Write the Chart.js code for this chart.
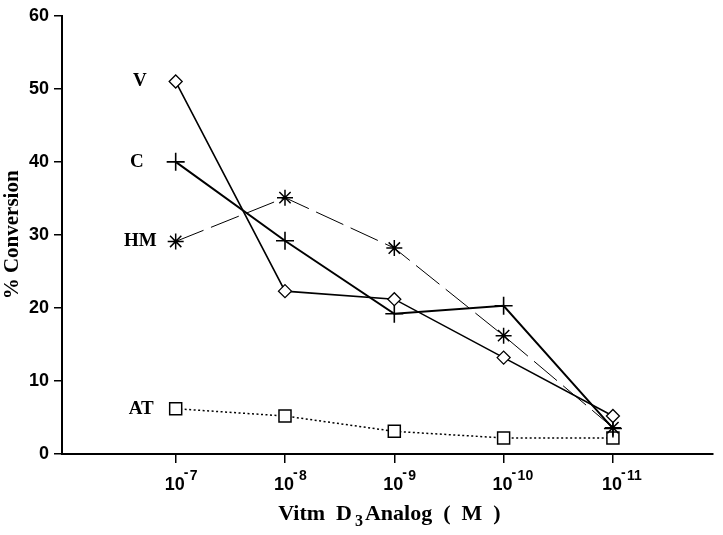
<!DOCTYPE html>
<html>
<head>
  <script src="https://cdn.jsdelivr.net/npm/chart.js@4.4.0/dist/chart.umd.min.js"></script>
  <style>
    body { margin: 0; background: #fff; }
    #wrap { width: 723px; height: 535px; position: relative; }
  </style>
</head>
<body>
  <div id="wrap"><canvas id="chart"></canvas></div>

  <script>
    // concentration exponents, 10^-7 ... 10^-11 M
    var exponents = ['-7', '-8', '-9', '-10', '-11'];
    var yTicks = [0, 10, 20, 30, 40, 50, 60];

    var seriesNames = ['V', 'C', 'HM', 'AT'];
    var vValues  = [51, 22.3, 21.2, 13.2, 5.2];
    var cValues  = [40, 29.2, 19.2, 20.3, 3.5];
    var hmValues = [29.1, 35.1, 28.2, 16.2, 3.6];
    var atValues = [6.2, 5.2, 3.1, 2.2, 2.2];

    function pts(vals) {
      return vals.map(function (v, i) { return { x: i, y: v }; });
    }

    var serif = "'Liberation Serif', 'DejaVu Serif', serif";
    var sans = "'Liberation Sans', Arial, sans-serif";

    // draws series names, x tick labels with superscripts and x title
    var textPlugin = {
      id: 'texts',
      afterDraw: function (chart) {
        var ctx = chart.ctx;
        var xs = chart.scales.x, ys = chart.scales.y;
        ctx.save();
        ctx.fillStyle = '#000';

        // series names next to the first point
        ctx.font = 'bold 19px ' + serif;
        ctx.textAlign = 'right';
        ctx.textBaseline = 'middle';
        chart.data.datasets.forEach(function (ds) {
          var p = ds.data[0];
          ctx.fillText(ds.label, xs.getPixelForValue(p.x) - ds.nameGap, ys.getPixelForValue(p.y));
        });

        // x tick labels 10^n
        exponents.forEach(function (e, i) {
          var px = xs.getPixelForValue(i);
          ctx.font = 'bold 18px ' + sans;
          ctx.textAlign = 'right';
          ctx.textBaseline = 'alphabetic';
          ctx.fillText('10', px + 9, ys.bottom + 36);
          ctx.font = 'bold 14px ' + sans;
          ctx.textAlign = 'left';
          ctx.fillText('-', px + 8, ys.bottom + 23);
          ctx.fillText(e.replace('-', ''), px + 14, ys.bottom + 26);
        });

        // x axis title with subscript
        var x0 = (xs.left + xs.right) / 2 - 109;
        var ty = ys.bottom + 66;
        ctx.textAlign = 'left';
        ctx.font = 'bold 22px ' + serif;
        var a = 'Vitm  D', b = 'Analog  (  M  )';
        var wa = ctx.measureText(a).width;
        ctx.fillText(a, x0, ty);
        ctx.font = 'bold 16px ' + serif;
        var w3 = ctx.measureText('3').width;
        ctx.fillText('3', x0 + wa + 3, ty + 6);
        ctx.font = 'bold 22px ' + serif;
        ctx.fillText(b, x0 + wa + w3 + 5, ty);
        ctx.restore();
      }
    };

    var ctx = document.getElementById('chart').getContext('2d');
    var chart = new Chart(ctx, {
      type: 'line',
      data: {
        datasets: [{
          label: seriesNames[0],
          data: pts(vValues),
          borderColor: '#000',
          borderWidth: 1.6,
          pointStyle: 'rectRot',
          pointRadius: 6.5,
          pointBorderWidth: 1.3,
          pointBackgroundColor: '#fff',
          pointBorderColor: '#000',
          nameGap: 29
        }, {
          label: seriesNames[1],
          data: pts(cValues),
          borderColor: '#000',
          borderWidth: 2,
          pointStyle: 'cross',
          pointRadius: 9,
          pointBorderWidth: 1.6,
          pointBorderColor: '#000',
          nameGap: 32
        }, {
          label: seriesNames[2],
          data: pts(hmValues),
          borderColor: '#000',
          borderWidth: 1,
          borderDash: [30, 8],
          pointStyle: 'star',
          pointRadius: 8,
          pointBorderWidth: 1.5,
          pointBorderColor: '#000',
          nameGap: 19
        }, {
          label: seriesNames[3],
          data: pts(atValues),
          borderColor: '#000',
          borderWidth: 1.5,
          borderDash: [2, 2.5],
          pointStyle: 'rect',
          pointRadius: 8.5,
          pointBorderWidth: 1.5,
          pointBackgroundColor: '#fff',
          pointBorderColor: '#000',
          nameGap: 22
        }]
      },
      options: {
        responsive: true,
        maintainAspectRatio: false,
        animation: false,
        layout: { padding: { top: 13, right: 0, left: 0, bottom: 0 } },
        plugins: {
          legend: { display: false },
          tooltip: { enabled: false }
        },
        elements: { line: { tension: 0, fill: false } },
        scales: {
          x: {
            type: 'linear',
            min: -1.04,
            max: 4.91,
            afterBuildTicks: function (scale) {
              scale.ticks = exponents.map(function (e, i) { return { value: i }; });
            },
            afterFit: function (scale) { scale.height = 81; },
            ticks: { display: false },
            grid: {
              drawOnChartArea: false,
              drawTicks: true,
              tickLength: 9,
              color: '#000',
              lineWidth: 1.5
            },
            border: { color: '#000', width: 2 }
          },
          y: {
            min: 0,
            max: 60,
            afterBuildTicks: function (scale) {
              scale.ticks = yTicks.map(function (v) { return { value: v }; });
            },
            afterFit: function (scale) { scale.width = 62; },
            ticks: {
              color: '#000',
              padding: 5,
              font: { family: sans, size: 18, weight: 'bold' }
            },
            grid: {
              drawOnChartArea: false,
              drawTicks: true,
              tickLength: 8,
              color: '#000',
              lineWidth: 1.5
            },
            border: { color: '#000', width: 2 },
            title: {
              display: true,
              text: '% Conversion',
              color: '#000',
              padding: { top: 0, bottom: 0 },
              font: { family: serif, size: 21, weight: 'bold' }
            }
          }
        }
      },
      plugins: [textPlugin]
    });
  </script>
</body>
</html>
